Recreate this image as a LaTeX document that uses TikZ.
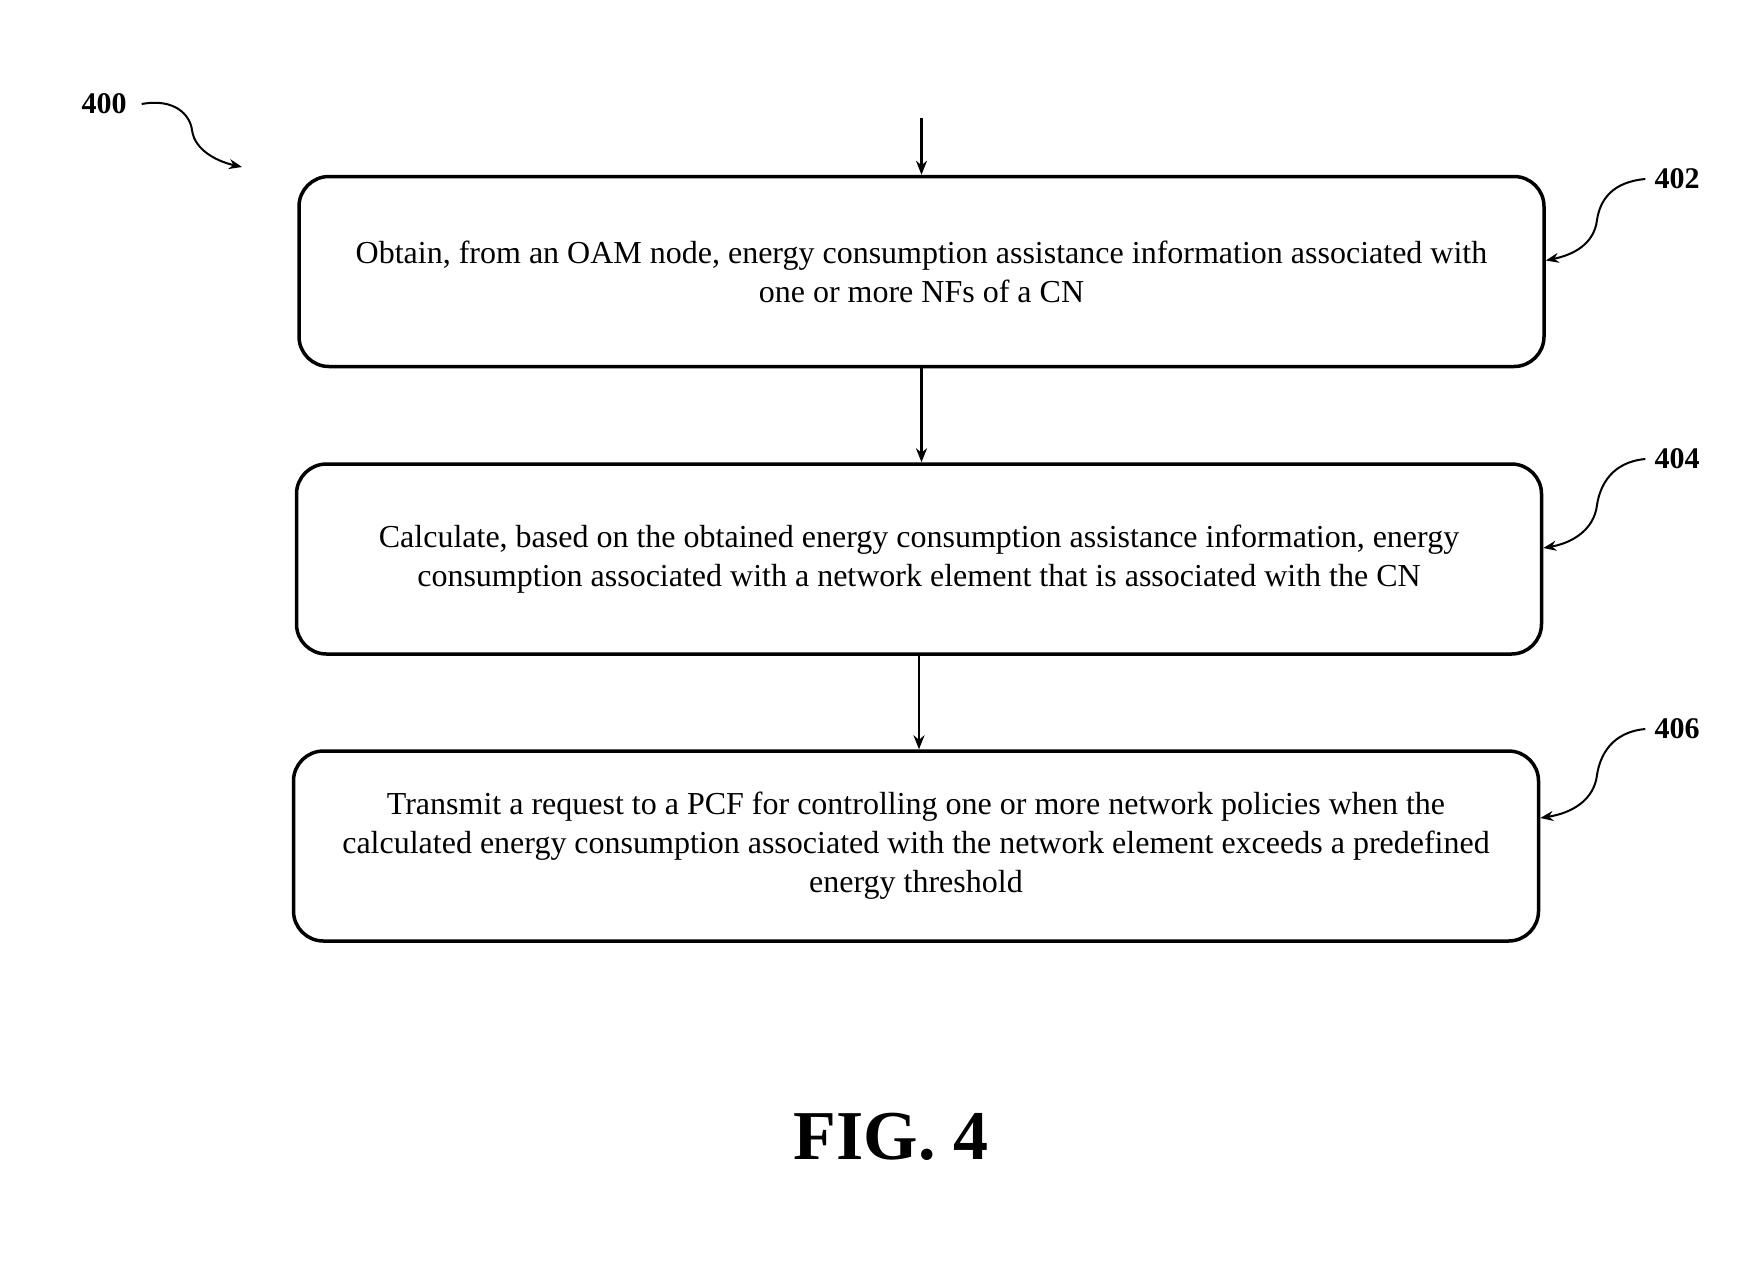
\documentclass[tikz,border=0pt]{standalone}
\usepackage{fontspec}
\setmainfont{Liberation Serif}
\usetikzlibrary{arrows.meta}
\tikzset{
  stepbox/.style={draw, line width=3.5pt, rounded corners=30pt, minimum width=1245pt, minimum height=190pt, align=center, font=\fontsize{32}{39}\selectfont, inner sep=0pt},
  flow/.style={line width=2.5pt, -{Stealth[length=14pt,width=11pt]}},
  refline/.style={line width=2pt, -{Stealth[length=13pt,width=10pt]}},
  reflabel/.style={font=\fontsize{30}{30}\selectfont\bfseries, inner sep=3pt}
}
\begin{document}
\begin{tikzpicture}[x=1pt,y=-1pt]
\useasboundingbox (0,0) rectangle (1761,1262);
\node[stepbox] (b1) at (921.5,271.5) {Obtain, from an OAM node, energy consumption assistance information associated with\\one or more NFs of a CN};
\node[stepbox] (b2) at (919,559) {Calculate, based on the obtained energy consumption assistance information, energy\\consumption associated with a network element that is associated with the CN};
\node[stepbox] (b3) at (916,846) {Transmit a request to a PCF for controlling one or more network policies when the\\calculated energy consumption associated with the network element exceeds a predefined\\energy threshold};
\coordinate (start) at (921.5,118);
\draw[flow] (start) -- (b1.north);
\draw[flow] (b1.south) -- (b1.south |- b2.north);
\draw[flow] (b2.south) -- (b2.south |- b3.north);

\node[reflabel] (l400) at (104,104) {400};
\coordinate (t400) at (242,167);
\draw[refline] ([xshift=12pt]l400.east) .. controls (175,98) and (190,115) .. (192,130) .. controls (195,152) and (220,162) .. (t400);

\node[reflabel] (l402) at (1677,179) {402};
\node[reflabel] (l404) at (1677,459) {404};
\node[reflabel] (l406) at (1677,729) {406};
\draw[refline] ([xshift=-6pt]l402.west) .. controls (1612,182) and (1600,200) .. (1597,220) .. controls (1594,245) and (1572,255) .. ([yshift=11pt]b1.east);
\draw[refline] ([xshift=-6pt]l404.west) .. controls (1612,462) and (1600,485) .. (1597,505) .. controls (1594,530) and (1572,543) .. ([yshift=11pt]b2.east);
\draw[refline] ([xshift=-6pt]l406.west) .. controls (1612,732) and (1600,755) .. (1597,775) .. controls (1594,800) and (1572,813) .. ([yshift=28pt]b3.east);

\node[font=\fontsize{70}{70}\selectfont\bfseries] (fig) at (891,1137) {FIG. 4};
\end{tikzpicture}
\end{document}
